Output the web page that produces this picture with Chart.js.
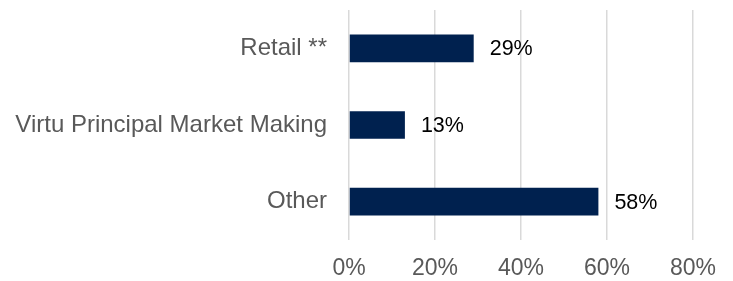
<!DOCTYPE html>
<html>
<head>
<meta charset="utf-8">
<script src="https://cdn.jsdelivr.net/npm/chart.js@4"></script>
<style>
  html, body { margin: 0; padding: 0; background: #fff; }
  #wrap { width: 733px; height: 281px; }
</style>
</head>
<body>
<div id="wrap"><canvas id="mixChart" width="733" height="281"></canvas></div>
<script>
// --- data ---
const categories = ['Retail **', 'Virtu Principal Market Making', 'Other'];
const shares = [29, 13, 58];
const tickValues = [0, 20, 40, 60, 80];

const barColor = '#00214f';
const textGrey = '#595959';
const fontFamily = '"Liberation Sans", Arial, sans-serif';

// draw the % labels to the right of each bar
const valueLabels = {
  id: 'valueLabels',
  afterDatasetsDraw(chart) {
    const ctx = chart.ctx;
    const meta = chart.getDatasetMeta(0);
    ctx.save();
    ctx.font = '21.5px ' + fontFamily;
    ctx.fillStyle = '#000';
    ctx.textAlign = 'left';
    ctx.textBaseline = 'middle';
    meta.data.forEach((bar, i) => {
      ctx.fillText(shares[i] + '%', bar.x + 16, bar.y + 1);
    });
    ctx.restore();
  }
};

new Chart(document.getElementById('mixChart'), {
  type: 'bar',
  data: {
    labels: categories,
    datasets: [{
      data: shares,
      backgroundColor: barColor,
      borderWidth: 0,
      barPercentage: 0.36,
      categoryPercentage: 1
    }]
  },
  options: {
    indexAxis: 'y',
    responsive: false,
    animation: false,
    layout: { padding: { top: 10, right: 40, left: 0, bottom: 0 } },
    plugins: {
      legend: { display: false },
      tooltip: { enabled: false }
    },
    scales: {
      x: {
        min: tickValues[0],
        max: tickValues[tickValues.length - 1],
        afterBuildTicks: (axis) => { axis.ticks = tickValues.map(v => ({ value: v })); },
        afterFit: (axis) => { axis.height = 41; },
        grid: { color: '#d9d9d9', lineWidth: 1.5, drawTicks: false },
        border: { display: false },
        ticks: {
          padding: 15,
          color: textGrey,
          font: { family: fontFamily, size: 23 },
          callback: (v) => v + '%'
        }
      },
      y: {
        afterFit: (axis) => {
          axis.width = 349;
          axis.paddingTop = 0;
          axis.paddingBottom = 0;
        },
        grid: { display: false, drawTicks: false },
        border: { display: false },
        ticks: {
          padding: 22,
          color: textGrey,
          font: { family: fontFamily, size: 24 }
        }
      }
    }
  },
  plugins: [valueLabels]
});
</script>
</body>
</html>
